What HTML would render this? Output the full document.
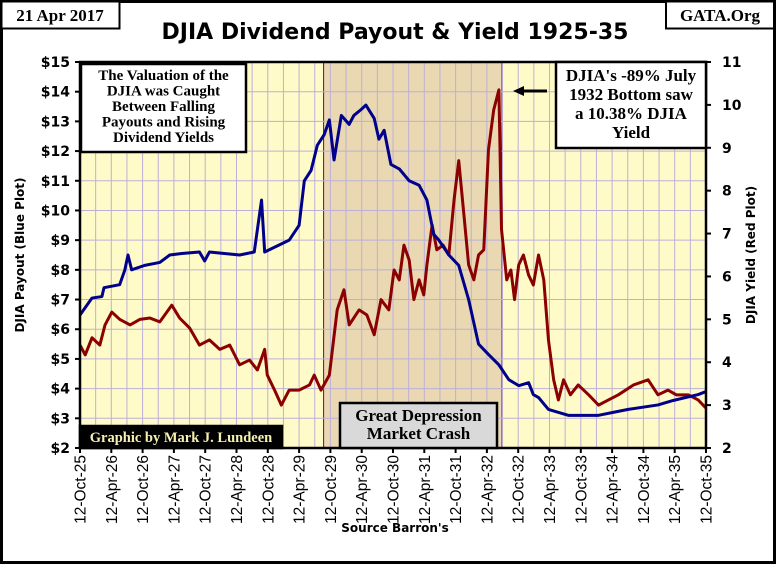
<!DOCTYPE html>
<html><head><meta charset="utf-8"><style>
body{margin:0;width:776px;height:564px;overflow:hidden;background:#fff;font-family:"Liberation Sans",sans-serif}
svg text{font-family:"DejaVu Sans","Liberation Sans",sans-serif}
.serif{font-family:"Liberation Serif",serif;font-weight:bold}
</style></head><body>
<svg id="chart" width="776" height="564" xmlns="http://www.w3.org/2000/svg">
<rect x="1.5" y="1.5" width="773" height="561" fill="#fff" stroke="#000" stroke-width="3"/>
<g id="plot"></g>
<g><rect x="1.5" y="1.5" width="118" height="27" fill="#fff" stroke="#000" stroke-width="2"/><text class="serif" x="60" y="21" font-size="17" text-anchor="middle">21 Apr 2017</text></g>
<g><rect x="666" y="1.5" width="108" height="27" fill="#fff" stroke="#000" stroke-width="2"/><text class="serif" x="720" y="21" font-size="17" text-anchor="middle">GATA.Org</text></g>
<text x="395" y="39" font-size="22" font-weight="bold" text-anchor="middle">DJIA Dividend Payout &amp; Yield 1925-35</text>
<text x="395" y="532" font-size="12" font-weight="bold" text-anchor="middle">Source Barron's</text>
<text transform="translate(24,255) rotate(-90)" font-size="12" font-weight="bold" text-anchor="middle">DJIA Payout  (Blue Plot)</text>
<text transform="translate(755,255) rotate(-90)" font-size="12" font-weight="bold" text-anchor="middle">DJIA Yield  (Red Plot)</text>
</svg>
<script>
const blueMonths=[0,2.3,4.2,4.6,7.6,8.6,9.2,9.9,12.4,15.3,17.2,19.5,22.9,23.9,24.8,30.6,33.4,34.8,35.4,40.1,42.0,43.0,44.3,45.5,46.8,47.8,48.7,50.1,51.6,52.5,53.9,54.8,56.4,57.3,58.3,59.6,61.2,63.1,65.0,66.5,67.8,68.8,70.7,72.6,74.5,76.4,78.3,80.3,82.2,84.1,86.0,86.9,87.9,89.8,93.6,99.4,102.2,105.1,110.8,113.7,118.5,120];
const bluePayout=[6.48,7.05,7.1,7.4,7.5,8.0,8.5,8.0,8.15,8.25,8.5,8.55,8.6,8.3,8.6,8.5,8.6,10.35,8.6,9.0,9.5,11.0,11.35,12.2,12.55,13.05,11.7,13.2,12.9,13.2,13.4,13.55,13.1,12.4,12.7,11.55,11.4,11.0,10.85,10.35,9.2,9.0,8.5,8.15,7.0,5.5,5.15,4.8,4.3,4.1,4.2,3.8,3.7,3.3,3.1,3.1,3.2,3.3,3.45,3.6,3.8,3.9];
const redMonths=[0,1.0,2.3,3.8,4.8,6.1,7.6,9.6,11.5,13.4,15.3,17.6,19.1,21.0,22.9,24.8,26.8,28.7,30.6,32.5,34.0,35.4,35.9,37.3,38.6,40.1,42.0,44.0,44.9,46.2,47.8,49.3,50.6,51.6,53.5,55.0,56.4,57.7,59.2,60.2,61.2,62.1,63.1,64.0,65.0,65.9,66.5,67.5,68.4,69.6,70.7,71.7,72.6,73.6,74.5,75.5,76.4,77.4,78.3,79.3,80.3,80.8,81.8,82.6,83.3,84.1,85.0,86.0,86.9,87.9,88.9,89.8,90.8,91.7,92.7,94.0,95.5,97.5,99.4,101.3,103.2,106.1,108.9,110.8,112.7,114.3,116.6,118.5,120];
const redYield=[4.4,4.17,4.57,4.4,4.87,5.17,5.0,4.87,5.0,5.03,4.94,5.33,5.03,4.8,4.4,4.52,4.3,4.4,3.94,4.05,3.82,4.3,3.7,3.35,3.0,3.35,3.35,3.47,3.7,3.35,3.7,5.22,5.69,4.87,5.22,5.1,4.64,5.46,5.22,6.15,5.92,6.73,6.38,5.46,5.92,5.57,6.27,7.2,6.62,6.73,6.5,7.78,8.7,7.43,6.27,5.92,6.5,6.62,8.95,9.88,10.35,7.1,5.92,6.15,5.46,6.27,6.5,6.03,5.8,6.5,5.92,4.52,3.59,3.12,3.59,3.24,3.47,3.24,3.0,3.12,3.24,3.47,3.59,3.24,3.35,3.24,3.24,3.12,2.93];
const xTickLabels=["12-Oct-25","12-Apr-26","12-Oct-26","12-Apr-27","12-Oct-27","12-Apr-28","12-Oct-28","12-Apr-29","12-Oct-29","12-Apr-30","12-Oct-30","12-Apr-31","12-Oct-31","12-Apr-32","12-Oct-32","12-Apr-33","12-Oct-33","12-Apr-34","12-Oct-34","12-Apr-35","12-Oct-35"];
const leftTicks=[2,3,4,5,6,7,8,9,10,11,12,13,14,15];
const rightTicks=[2,3,4,5,6,7,8,9,10,11];
const shadeRange=[46.7,80.9];

const L=80,R=706,T=62,B=448;
const xs=m=>L+m/120*(R-L);
const yl=v=>B-(v-2)/13*(B-T);
const yr=v=>B-(v-2)/9*(B-T);
const NS="http://www.w3.org/2000/svg";
const g=document.getElementById('plot');
function mk(tag,attrs,parent){const e=document.createElementNS(NS,tag);for(const k in attrs)e.setAttribute(k,attrs[k]);(parent||g).appendChild(e);return e;}

let e=mk('rect',{x:L,y:T,width:R-L,height:B-T,fill:'#FFFBC8'});


e=mk('rect',{x:xs(shadeRange[0]),y:T,width:xs(shadeRange[1])-xs(shadeRange[0]),height:B-T,fill:'#E9D8B2',stroke:'#800030','stroke-width':1});


for(let i=0;i<=40;i++){const x=L+i*(R-L)/40;
 e=mk('line',{x1:x,y1:T,x2:x,y2:B,stroke:'#BDB0D8','stroke-width':1});
 
 }
leftTicks.forEach(v=>{
 e=mk('line',{x1:L,y1:yl(v),x2:R,y2:yl(v),stroke:'#BDB0D8','stroke-width':1});
 
 
 e=mk('line',{x1:L-5,y1:yl(v),x2:L,y2:yl(v),stroke:'#000','stroke-width':2});
 
 
 e=mk('text',{x:L-10,y:yl(v)+5,'font-size':14,'font-weight':'bold','text-anchor':'end'});
 e.textContent='$'+v;
 
 
});
rightTicks.forEach(v=>{
 e=mk('line',{x1:R,y1:yr(v),x2:R+5,y2:yr(v),stroke:'#000','stroke-width':2});
 
 
 e=mk('text',{x:R+16,y:yr(v)+5,'font-size':14,'font-weight':'bold'});
 e.textContent=v;
 
 
});
xTickLabels.forEach((s,i)=>{const x=xs(i*6);
 e=mk('line',{x1:x,y1:B,x2:x,y2:B+5,stroke:'#000','stroke-width':2});
 
 
 e=mk('text',{transform:`translate(${x+5.5},${B+7}) rotate(-90)`,'font-size':15.5,'text-anchor':'end',style:'font-family:"Liberation Sans",sans-serif'});
 e.textContent=s;
 
 
});
e=mk('polyline',{points:redMonths.map((m,i)=>xs(m)+','+yr(redYield[i])).join(' '),fill:'none',stroke:'#8B0000','stroke-width':3,'stroke-linejoin':'round'});


e=mk('polyline',{points:blueMonths.map((m,i)=>xs(m)+','+yl(bluePayout[i])).join(' '),fill:'none',stroke:'#00008B','stroke-width':3,'stroke-linejoin':'round'});


e=mk('rect',{x:L,y:T,width:R-L,height:B-T,fill:'none',stroke:'#000','stroke-width':2.5});



function box(x,y,w,h,lines,name,fill,color,fs,lh,top){
 const gg=mk('g',{});
 
 
 mk('rect',{x,y,width:w,height:h,fill,stroke:'#000','stroke-width':2.5},gg);
 lines.forEach((t,i)=>{const tx=mk('text',{x:x+w/2,y:y+top+i*lh,'font-size':fs,'text-anchor':'middle',fill:color,class:'serif'},gg);tx.textContent=t;});
}
box(81,64,165,88,["The Valuation of the","DJIA was Caught","Between Falling","Payouts and Rising","Dividend Yields"],'valuation-note','#fff','#000',15,15.5,16);
box(556,62,150,86,["DJIA's -89% July","1932 Bottom saw","a 10.38% DJIA","Yield"],'bottom-note','#fff','#000',17,19,19);
box(340,403,157,45,["Great Depression","Market Crash"],'depression-label','#D9D9D9','#000',17,18,18);
box(80,426,202,22,["Graphic by Mark J. Lundeen"],'credit-label','#000','#F5F0B0',14.5,14,16);
e=mk('line',{x1:547,y1:91,x2:522,y2:91,stroke:'#000','stroke-width':3});


e=mk('polygon',{points:'513,91 524,86 524,96',fill:'#000'});


</script>
</body></html>
